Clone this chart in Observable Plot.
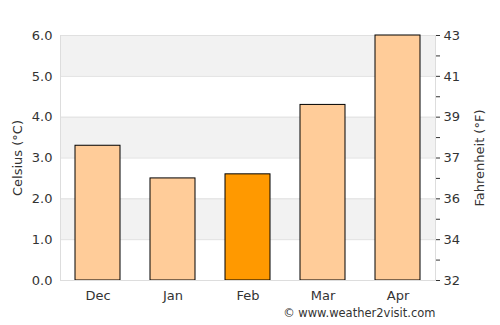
<!DOCTYPE html>
<html><head><meta charset="utf-8">
<script src="https://cdn.jsdelivr.net/npm/d3@7"></script>
<script src="https://cdn.jsdelivr.net/npm/@observablehq/plot@0.6"></script>
<style>body{margin:0;background:#fff;} svg{font-family:"DejaVu Sans",sans-serif;}</style>
</head><body><div id="chart"></div>
<script>
const months = ["Dec", "Jan", "Feb", "Mar", "Apr"];
const celsius = [3.3, 2.5, 2.6, 4.3, 6.0];
const highlight = "Feb";
const cTicks = [0, 1, 2, 3, 4, 5, 6];
const fLabels = ["32", "34", "36", "37", "39", "41", "43"];
const minorTicks = [0.5, 1.5, 2.5, 3.5, 4.5, 5.5];
const bandsLo = [1, 3, 5];
const copyright = "© www.weather2visit.com";

const data = months.map((m, i) => ({month: m, c: celsius[i]}));
const bands = bandsLo.map(v => ({y1: v, y2: v + 1}));

const chart = Plot.plot({
  width: 500, height: 325,
  marginTop: 35, marginBottom: 45, marginLeft: 60, marginRight: 65,
  style: {fontFamily: "DejaVu Sans, sans-serif", fontSize: "11px", color: "#333"},
  x: {domain: months, paddingInner: 0.4, paddingOuter: 0.2, label: null},
  y: {domain: [0, 6], label: null},
  marks: [
    Plot.rectY(bands, {y1: "y1", y2: "y2", fill: "#f2f2f2"}),
    Plot.ruleY(cTicks, {stroke: "#e0e0e0"}),
    Plot.frame({stroke: "#ddd", anchor: "left"}),
    Plot.frame({stroke: "#ddd", anchor: "right"}),
    Plot.axisY({ticks: cTicks, tickFormat: d => d.toFixed(1), tickSize: 0, tickPadding: 8, fontSize: 13,
      label: "Celsius (°C)", labelAnchor: "center", labelArrow: "none", labelOffset: 48}),
    Plot.axisY({anchor: "right", ticks: cTicks, tickFormat: (d, i) => fLabels[i], tickSize: 4, tickPadding: 4, stroke: "#333", fontSize: 13,
      label: "Fahrenheit (°F)", labelAnchor: "center", labelArrow: "none", labelOffset: 48}),
    Plot.axisY({anchor: "right", ticks: minorTicks, tickFormat: () => "", tickSize: 4, stroke: "#333", label: null}),
    Plot.axisX({tickSize: 0, tickPadding: 10, fontSize: 13}),
    Plot.barY(data, {x: "month", y: "c", fill: d => d.month === highlight ? "#ff9900" : "#ffcc99", stroke: "#000", strokeWidth: 1}),
    Plot.ruleY([0], {stroke: "#ddd"}),
    Plot.text([copyright], {frameAnchor: "bottom-right", dy: 36, textAnchor: "end", fontSize: 11.5, fill: "#333"})
  ]
});
document.getElementById("chart").appendChild(chart);
</script></body></html>
